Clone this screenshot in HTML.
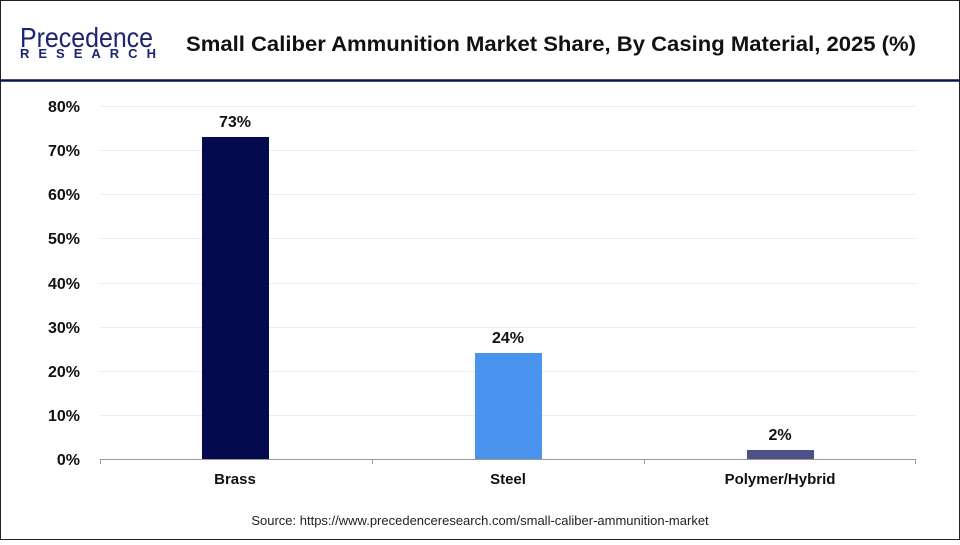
<!DOCTYPE html><html><head><style>
body{margin:0;width:960px;height:540px;overflow:hidden;background:#fff;font-family:"Liberation Sans",Arial,sans-serif}
</style></head><body>
<svg width="960" height="540" xmlns="http://www.w3.org/2000/svg" font-family="Liberation Sans, Arial, sans-serif">
<rect x="0.5" y="0.5" width="959" height="539" fill="#fff" stroke="#222" stroke-width="1"/>
<line x1="0" y1="80.5" x2="960" y2="80.5" stroke="#0b1446" stroke-width="2.5"/>
<text x="20" y="47" font-size="28" fill="#1b2470" textLength="133" lengthAdjust="spacingAndGlyphs">Precedence</text>
<text x="20" y="58" font-size="13" fill="#1b2470" font-weight="bold" letter-spacing="9">RESEARCH</text>
<text x="186" y="51" font-size="21" font-weight="bold" fill="#111" textLength="730" lengthAdjust="spacingAndGlyphs">Small Caliber Ammunition Market Share, By Casing Material, 2025 (%)</text>
<g stroke="#ececec" stroke-width="1">
<line x1="100" y1="106.5" x2="916" y2="106.5"/><line x1="100" y1="150.5" x2="916" y2="150.5"/>
<line x1="100" y1="194.5" x2="916" y2="194.5"/><line x1="100" y1="238.5" x2="916" y2="238.5"/>
<line x1="100" y1="283.5" x2="916" y2="283.5"/><line x1="100" y1="327.5" x2="916" y2="327.5"/>
<line x1="100" y1="371.5" x2="916" y2="371.5"/><line x1="100" y1="415.5" x2="916" y2="415.5"/>
</g>
<line x1="100" y1="459.5" x2="916" y2="459.5" stroke="#999"/>
<g stroke="#999"><line x1="100.5" y1="459" x2="100.5" y2="464"/><line x1="372.5" y1="459" x2="372.5" y2="464"/><line x1="644.5" y1="459" x2="644.5" y2="464"/><line x1="915.5" y1="459" x2="915.5" y2="464"/></g>
<g font-size="16" font-weight="bold" fill="#111" text-anchor="end">
<text x="80" y="112">80%</text><text x="80" y="156">70%</text><text x="80" y="200">60%</text><text x="80" y="244">50%</text>
<text x="80" y="289">40%</text><text x="80" y="333">30%</text><text x="80" y="377">20%</text><text x="80" y="421">10%</text><text x="80" y="465">0%</text>
</g>
<rect x="202" y="137" width="67" height="322" fill="#050a4f"/>
<rect x="475" y="353" width="67" height="106" fill="#4a94ee"/>
<rect x="747" y="450" width="67" height="9" fill="#4c5188"/>
<g font-size="16" font-weight="bold" fill="#111" text-anchor="middle">
<text x="235" y="127">73%</text><text x="508" y="343">24%</text><text x="780" y="440">2%</text>
</g>
<g font-size="15" font-weight="bold" fill="#111" text-anchor="middle">
<text x="235" y="484">Brass</text><text x="508" y="484">Steel</text><text x="780" y="484">Polymer/Hybrid</text>
</g>
<text x="480" y="525" font-size="13" text-anchor="middle" fill="#222">Source: https://www.precedenceresearch.com/small-caliber-ammunition-market</text>
</svg>
</body></html>
